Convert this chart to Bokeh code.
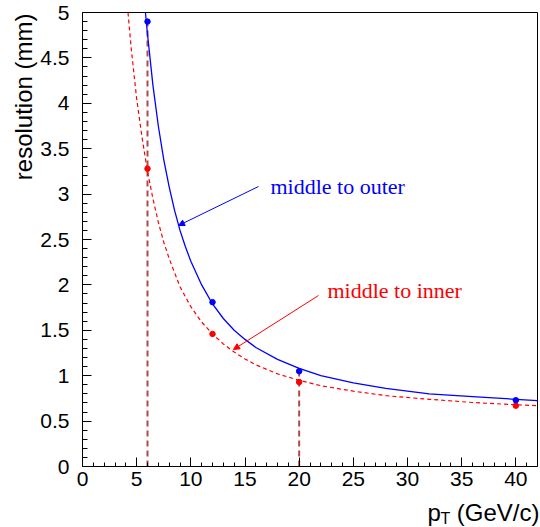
from bokeh.plotting import figure
from bokeh.models import Range1d, FixedTicker, Label, Arrow, NormalHead
from bokeh.embed import file_html
from bokeh.resources import INLINE
import numpy as np

# ---- data ----
pt = [6, 12, 20, 40]
res_outer = [4.90, 1.81, 1.05, 0.73]
res_inner = [3.28, 1.46, 0.93, 0.67]

# fitted curves
fit_outer_pt = [5.81, 6, 6.5, 7, 7.5, 8, 8.5, 9, 9.5, 10, 11, 12, 13, 14, 15, 16, 18, 20, 22, 25, 28, 32, 36, 40, 42]
fit_outer_res = [5.00, 4.76, 4.20, 3.75, 3.38, 3.08, 2.82, 2.60, 2.42, 2.26, 2.00, 1.79, 1.63, 1.50, 1.40, 1.31, 1.18,
                 1.08, 1.00, 0.92, 0.86, 0.80, 0.77, 0.74, 0.725]
fit_inner_pt = [4.2, 4.5, 5, 5.5, 6, 6.5, 7, 7.5, 8, 9, 10, 11, 12, 13, 14, 15, 16, 18, 20, 22, 25, 28, 32, 36, 40, 42]
fit_inner_res = [5.00, 4.60, 4.05, 3.62, 3.25, 2.95, 2.69, 2.47, 2.29, 1.98, 1.76, 1.59, 1.46, 1.35, 1.26, 1.185,
                 1.12, 1.02, 0.95, 0.89, 0.83, 0.78, 0.74, 0.705, 0.68, 0.67]

marked_pt = [pt[0], pt[2]]
marked_top = [res_outer[0], res_outer[2]]

x_ticks = [0, 5, 10, 15, 20, 25, 30, 35, 40]
x_tick_labels = ["0", "5", "10", "15", "20", "25", "30", "35", "40"]
y_ticks = [0, 0.5, 1, 1.5, 2, 2.5, 3, 3.5, 4, 4.5, 5]
y_tick_labels = ["0", "0.5", "1", "1.5", "2", "2.5", "3", "3.5", "4", "4.5", "5"]

X_MIN, X_MAX = 0, 42
Y_MIN, Y_MAX = 0, 5

BLUE = "#0000ff"
RED = "#ff0000"
BROWN = "#b04a4a"

# frame geometry (pixels) -> whole canvas is the frame; axes are placed inside it
W, H = 540, 527
FL, FR, FT, FB = 82, 537, 12, 466
sx = (FR - FL) / (X_MAX - X_MIN)
sy = (FB - FT) / (Y_MAX - Y_MIN)

def px_x(px):
    return X_MIN + (px - FL) / sx

def px_y(py):
    return Y_MIN + (FB - py) / sy

p = figure(width=W, height=H, output_backend="svg", toolbar_location=None,
           x_range=Range1d(px_x(0), px_x(W)), y_range=Range1d(px_y(H), px_y(0)),
           min_border=0)
p.background_fill_color = "white"
p.border_fill_color = "white"
p.outline_line_color = None
p.xgrid.visible = False
p.ygrid.visible = False

p.xaxis.fixed_location = Y_MIN
p.yaxis.fixed_location = X_MIN
p.xaxis.bounds = (X_MIN, X_MAX)
p.yaxis.bounds = (Y_MIN, Y_MAX)

p.xaxis.ticker = FixedTicker(ticks=x_ticks, minor_ticks=list(np.arange(0, 43, 1)))
p.yaxis.ticker = FixedTicker(ticks=y_ticks, minor_ticks=[round(v, 1) for v in np.arange(0, 5.01, 0.1)])
p.xaxis.major_label_overrides = {t: l for t, l in zip(x_ticks, x_tick_labels)}
p.yaxis.major_label_overrides = {t: l for t, l in zip(y_ticks, y_tick_labels)}

for ax in (p.xaxis, p.yaxis):
    ax.axis_line_color = "black"
    ax.axis_line_width = 1
    ax.major_tick_line_color = "black"
    ax.minor_tick_line_color = "black"
    ax.major_tick_out = 0
    ax.minor_tick_out = 0
    ax.major_tick_in = 9
    ax.major_label_text_font = "Liberation Sans"
    ax.major_label_text_font_size = "21px"
    ax.major_label_text_color = "black"
p.xaxis.minor_tick_in = 4
p.yaxis.minor_tick_in = 5
p.xaxis.major_label_standoff = 5
p.yaxis.major_label_standoff = 13

# frame top and right edges
p.line([X_MIN, X_MAX, X_MAX], [Y_MAX, Y_MAX, Y_MIN], line_color="black", line_width=1)

# vertical dashed markers
p.segment(x0=marked_pt, y0=[0, 0], x1=marked_pt, y1=marked_top,
          line_color=BROWN, line_width=2, line_dash="6 4")

# fit curves
p.line(fit_inner_pt, fit_inner_res, line_color=RED, line_width=1.2, line_dash="4 3")
p.line(fit_outer_pt, fit_outer_res, line_color=BLUE, line_width=1.3)

# points
p.scatter(pt, res_inner, size=5.5, color=RED)
p.scatter(pt, res_outer, size=5.5, color=BLUE)

# annotations
p.add_layout(Arrow(end=NormalHead(size=6, fill_color=BLUE, line_color=BLUE, line_width=1),
                   x_start=px_x(258), y_start=px_y(186), x_end=px_x(178), y_end=px_y(225),
                   line_color=BLUE, line_width=1))
p.add_layout(Arrow(end=NormalHead(size=6, fill_color=RED, line_color=RED, line_width=1),
                   x_start=px_x(318), y_start=px_y(295), x_end=px_x(233), y_end=px_y(349),
                   line_color=RED, line_width=1))
p.add_layout(Label(x=px_x(270), y=px_y(186), text="middle to outer", text_color=BLUE,
                   text_font="Liberation Serif", text_font_size="22px", text_baseline="alphabetic"))
p.add_layout(Label(x=px_x(327), y=px_y(290), text="middle to inner", text_color=RED,
                   text_font="Liberation Serif", text_font_size="22px", text_baseline="alphabetic"))

# axis titles
p.add_layout(Label(x=px_x(23), y=px_y(13), text="resolution (mm)", angle=np.pi / 2,
                   text_align="right", text_baseline="alphabetic",
                   text_font="Liberation Sans", text_font_size="24px", text_color="black"))
p.add_layout(Label(x=px_x(427), y=px_y(512), text="p", text_align="left", text_baseline="alphabetic",
                   text_font="Liberation Sans", text_font_size="24px", text_color="black"))
p.add_layout(Label(x=px_x(440), y=px_y(518), text="T", text_align="left", text_baseline="alphabetic",
                   text_font="Liberation Sans", text_font_size="16px", text_color="black"))
p.add_layout(Label(x=px_x(539), y=px_y(512), text="(GeV/c)", text_align="right", text_baseline="alphabetic",
                   text_font="Liberation Sans", text_font_size="24px", text_color="black"))

open("out.html", "w").write(file_html(p, INLINE))
